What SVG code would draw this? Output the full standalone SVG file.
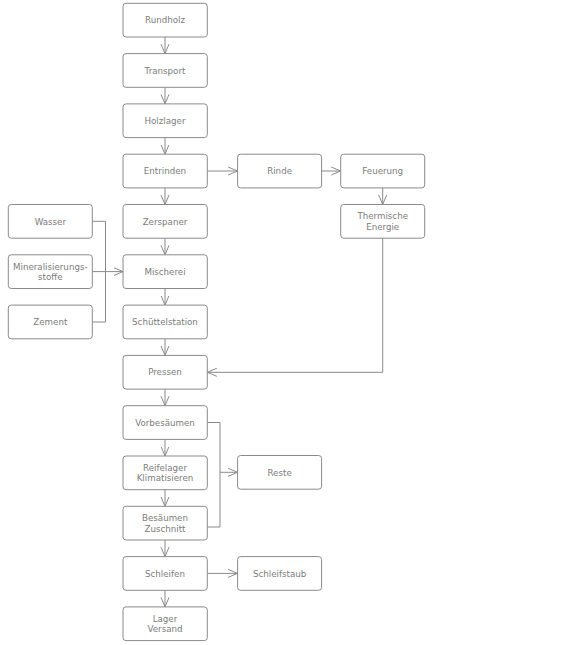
<svg xmlns="http://www.w3.org/2000/svg" width="587" height="645" viewBox="0 0 587 645">
<style>
.n rect{fill:#fff;stroke:#8a8a8a;stroke-width:1}
.n text{font-family:"DejaVu Sans",Verdana,sans-serif;font-size:8.7px;fill:#7c7c7c;text-anchor:middle}
.c path{fill:none;stroke:#8a8a8a;stroke-width:1}
.c path.a{marker-end:url(#ar)}
</style>
<defs>
<marker id="ar" viewBox="0 0 10 10" refX="9.5" refY="5" markerWidth="10" markerHeight="10" markerUnits="userSpaceOnUse" orient="auto">
<path d="M0,1 L9.5,5 L0,9" fill="none" stroke="#8a8a8a" stroke-width="1"/>
</marker>
</defs>
<rect width="587" height="645" fill="#fff"/>
<g class="c">
<path class="a" d="M165,37 V53.6"/>
<path class="a" d="M165,87.3 V103.9"/>
<path class="a" d="M165,137.6 V154.2"/>
<path class="a" d="M165,187.9 V204.5"/>
<path class="a" d="M165,238.2 V254.8"/>
<path class="a" d="M165,288.5 V305.1"/>
<path class="a" d="M165,338.8 V355.4"/>
<path class="a" d="M165,389.1 V405.7"/>
<path class="a" d="M165,439.4 V456"/>
<path class="a" d="M165,489.7 V506.3"/>
<path class="a" d="M165,540 V556.6"/>
<path class="a" d="M165,590.3 V606.9"/>
<path class="a" d="M207.3,171 H237.6"/>
<path class="a" d="M321.6,171 H340.7"/>
<path class="a" d="M382.7,187.9 V204.5"/>
<path class="a" d="M382.7,238.2 V372.3 H207.3"/>
<path d="M92.3,221.3 H105.5 V322 H92.3"/>
<path class="a" d="M92.3,271.6 H123"/>
<path d="M207.3,422.5 H220 V527 H207.3"/>
<path class="a" d="M220,472.3 H237.6"/>
<path class="a" d="M207.3,573.4 H237.6"/>
</g>
<g id="rundholz" class="n"><rect x="123" y="3.3" width="84.3" height="33.7" rx="3"/><text x="165" y="23.3">Rundholz</text></g>
<g id="transport" class="n"><rect x="123" y="53.6" width="84.3" height="33.7" rx="3"/><text x="165" y="73.6">Transport</text></g>
<g id="holzlager" class="n"><rect x="123" y="103.9" width="84.3" height="33.7" rx="3"/><text x="165" y="123.9">Holzlager</text></g>
<g id="entrinden" class="n"><rect x="123" y="154.2" width="84.3" height="33.7" rx="3"/><text x="165" y="174.2">Entrinden</text></g>
<g id="zerspaner" class="n"><rect x="123" y="204.5" width="84.3" height="33.7" rx="3"/><text x="165" y="224.5">Zerspaner</text></g>
<g id="mischerei" class="n"><rect x="123" y="254.8" width="84.3" height="33.7" rx="3"/><text x="165" y="274.8">Mischerei</text></g>
<g id="schuettelstation" class="n"><rect x="123" y="305.1" width="84.3" height="33.7" rx="3"/><text x="165" y="325.1">Schüttelstation</text></g>
<g id="pressen" class="n"><rect x="123" y="355.4" width="84.3" height="33.7" rx="3"/><text x="165" y="375.4">Pressen</text></g>
<g id="vorbesaeumen" class="n"><rect x="123" y="405.7" width="84.3" height="33.7" rx="3"/><text x="165" y="425.7">Vorbesäumen</text></g>
<g id="reifelager" class="n"><rect x="123" y="456" width="84.3" height="33.7" rx="3"/><text x="165" y="470.7">Reifelager</text><text x="165" y="481.3">Klimatisieren</text></g>
<g id="besaeumen" class="n"><rect x="123" y="506.3" width="84.3" height="33.7" rx="3"/><text x="165" y="521">Besäumen</text><text x="165" y="531.6">Zuschnitt</text></g>
<g id="schleifen" class="n"><rect x="123" y="556.6" width="84.3" height="33.7" rx="3"/><text x="165" y="576.6">Schleifen</text></g>
<g id="lager" class="n"><rect x="123" y="606.9" width="84.3" height="33.7" rx="3"/><text x="165" y="621.6">Lager</text><text x="165" y="632.2">Versand</text></g>
<g id="rinde" class="n"><rect x="237.6" y="154.2" width="84" height="33.7" rx="3"/><text x="279.6" y="174.2">Rinde</text></g>
<g id="feuerung" class="n"><rect x="340.7" y="154.2" width="84" height="33.7" rx="3"/><text x="382.7" y="174.2">Feuerung</text></g>
<g id="thermische" class="n"><rect x="340.7" y="204.5" width="84" height="33.7" rx="3"/><text x="382.7" y="219.2">Thermische</text><text x="382.7" y="229.8">Energie</text></g>
<g id="wasser" class="n"><rect x="8.3" y="204.5" width="84" height="33.7" rx="3"/><text x="50.3" y="224.5">Wasser</text></g>
<g id="mineral" class="n"><rect x="8.3" y="254.8" width="84" height="33.7" rx="3"/><text x="50.3" y="269.5">Mineralisierungs-</text><text x="50.3" y="280.1">stoffe</text></g>
<g id="zement" class="n"><rect x="8.3" y="305.1" width="84" height="33.7" rx="3"/><text x="50.3" y="325.1">Zement</text></g>
<g id="reste" class="n"><rect x="237.6" y="455.5" width="84" height="33.7" rx="3"/><text x="279.6" y="475.5">Reste</text></g>
<g id="schleifstaub" class="n"><rect x="237.6" y="556.6" width="84" height="33.7" rx="3"/><text x="279.6" y="576.6">Schleifstaub</text></g>
</svg>
